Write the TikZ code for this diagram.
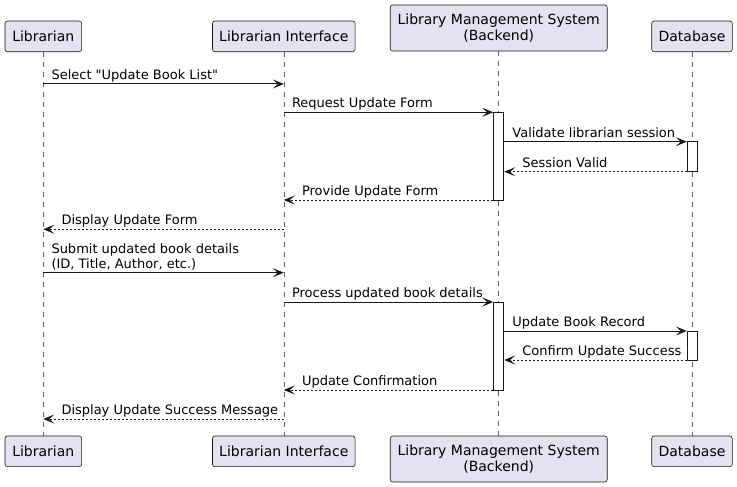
\documentclass[tikz,border=0pt]{standalone}
\usepackage{fontspec}
\setmainfont{DejaVu Sans}
\usetikzlibrary{arrows.meta,calc}
\definecolor{pfill}{HTML}{E2E2F0}
\definecolor{pline}{HTML}{181818}
\begin{document}
\begin{tikzpicture}[x=1pt,y=-1pt,
 part/.style={draw=pline, fill=pfill, rounded corners=2.5pt, line width=0.6pt, inner sep=0pt, align=center, font=\fontsize{14}{16}\selectfont},
 life/.style={draw=pline!70, line width=0.5pt, dash pattern=on 5pt off 5pt},
 act/.style={draw=pline, fill=white, line width=1pt, minimum width=10pt, inner sep=0pt},
 msg/.style={draw=pline, line width=1pt, -{Stealth[length=11pt,width=9pt,inset=5pt]}},
 ret/.style={msg, dash pattern=on 2pt off 2pt},
 lbl/.style={font=\fontsize{13}{15}\selectfont, anchor=base west, inner sep=0pt, align=left}
]
\useasboundingbox (0,0) rectangle (737,487);
% participants
\node[part, minimum width=76.7pt, minimum height=30.7pt] (L) at (43.3,36.4) {Librarian};
\node[part, minimum width=142.6pt, minimum height=30.7pt] (I) at (283.8,36.4) {Librarian Interface};
\node[part, minimum width=217pt, minimum height=46pt] (S) at (498.7,28) {Library Management System\\(Backend)};
\node[part, minimum width=80.6pt, minimum height=30.7pt] (D) at (692,36.4) {Database};
\node[part, minimum width=76.7pt, minimum height=30.7pt] (Lb) at (43.3,451.3) {Librarian};
\node[part, minimum width=142.6pt, minimum height=30.7pt] (Ib) at (283.8,451.3) {Librarian Interface};
\node[part, minimum width=217pt, minimum height=46pt] (Sb) at (498.7,459) {Library Management System\\(Backend)};
\node[part, minimum width=80.6pt, minimum height=30.7pt] (Db) at (692,451.3) {Database};
% lifelines
\draw[life] (L.south) -- (Lb.north);
\draw[life] (I.south) -- (Ib.north);
\draw[life] (S.south) -- (Sb.north);
\draw[life] (D.south) -- (Db.north);
% message levels
\coordinate (m1) at (0,84);
\coordinate (m2) at (0,112.3);
\coordinate (m3) at (0,141.7);
\coordinate (m4) at (0,171.7);
\coordinate (m5) at (0,200);
\coordinate (m6) at (0,229.3);
\coordinate (m7) at (0,272.7);
\coordinate (m8) at (0,302);
\coordinate (m9) at (0,331);
\coordinate (m10) at (0,360);
\coordinate (m11) at (0,390);
\coordinate (m12) at (0,419);
% activations
\node[act, minimum height=87.7pt] (A1) at (498.7,156.15) {};
\node[act, minimum height=30pt] (A2) at (692.3,156.7) {};
\node[act, minimum height=88pt] (A3) at (498.7,346) {};
\node[act, minimum height=29pt] (A4) at (692.3,345.5) {};
% messages
\draw[msg] (L |- m1) -- (I |- m1);
\node[lbl] (t1) at ($(L |- m1)+(8,-4.6)$) {Select \textquotedbl Update Book List\textquotedbl};
\draw[msg] (I |- m2) -- (A1.west |- m2);
\node[lbl] (t2) at ($(I |- m2)+(8,-4.6)$) {Request Update Form};
\draw[msg] (A1.east |- m3) -- (A2.west |- m3);
\node[lbl] (t3) at ($(A1.east |- m3)+(8,-4.6)$) {Validate librarian session};
\draw[ret] (A2.west |- m4) -- (A1.east |- m4);
\node[lbl] (t4) at ($(A1.east |- m4)+(18,-4.6)$) {Session Valid};
\draw[ret] (A1.west |- m5) -- (I |- m5);
\node[lbl] (t5) at ($(I |- m5)+(18,-4.6)$) {Provide Update Form};
\draw[ret] (I |- m6) -- (L |- m6);
\node[lbl] (t6) at ($(L |- m6)+(18,-4.6)$) {Display Update Form};
\draw[msg] (L |- m7) -- (I |- m7);
\node[lbl] (t7) at ($(L |- m7)+(8,-4.6)$) {Submit updated book details\\(ID, Title, Author, etc.)};
\draw[msg] (I |- m8) -- (A3.west |- m8);
\node[lbl] (t8) at ($(I |- m8)+(8,-4.6)$) {Process updated book details};
\draw[msg] (A3.east |- m9) -- (A4.west |- m9);
\node[lbl] (t9) at ($(A3.east |- m9)+(8,-4.6)$) {Update Book Record};
\draw[ret] (A4.west |- m10) -- (A3.east |- m10);
\node[lbl] (t10) at ($(A3.east |- m10)+(18,-4.6)$) {Confirm Update Success};
\draw[ret] (A3.west |- m11) -- (I |- m11);
\node[lbl] (t11) at ($(I |- m11)+(18,-4.6)$) {Update Confirmation};
\draw[ret] (I |- m12) -- (L |- m12);
\node[lbl] (t12) at ($(L |- m12)+(18,-4.6)$) {Display Update Success Message};
\end{tikzpicture}
\end{document}
